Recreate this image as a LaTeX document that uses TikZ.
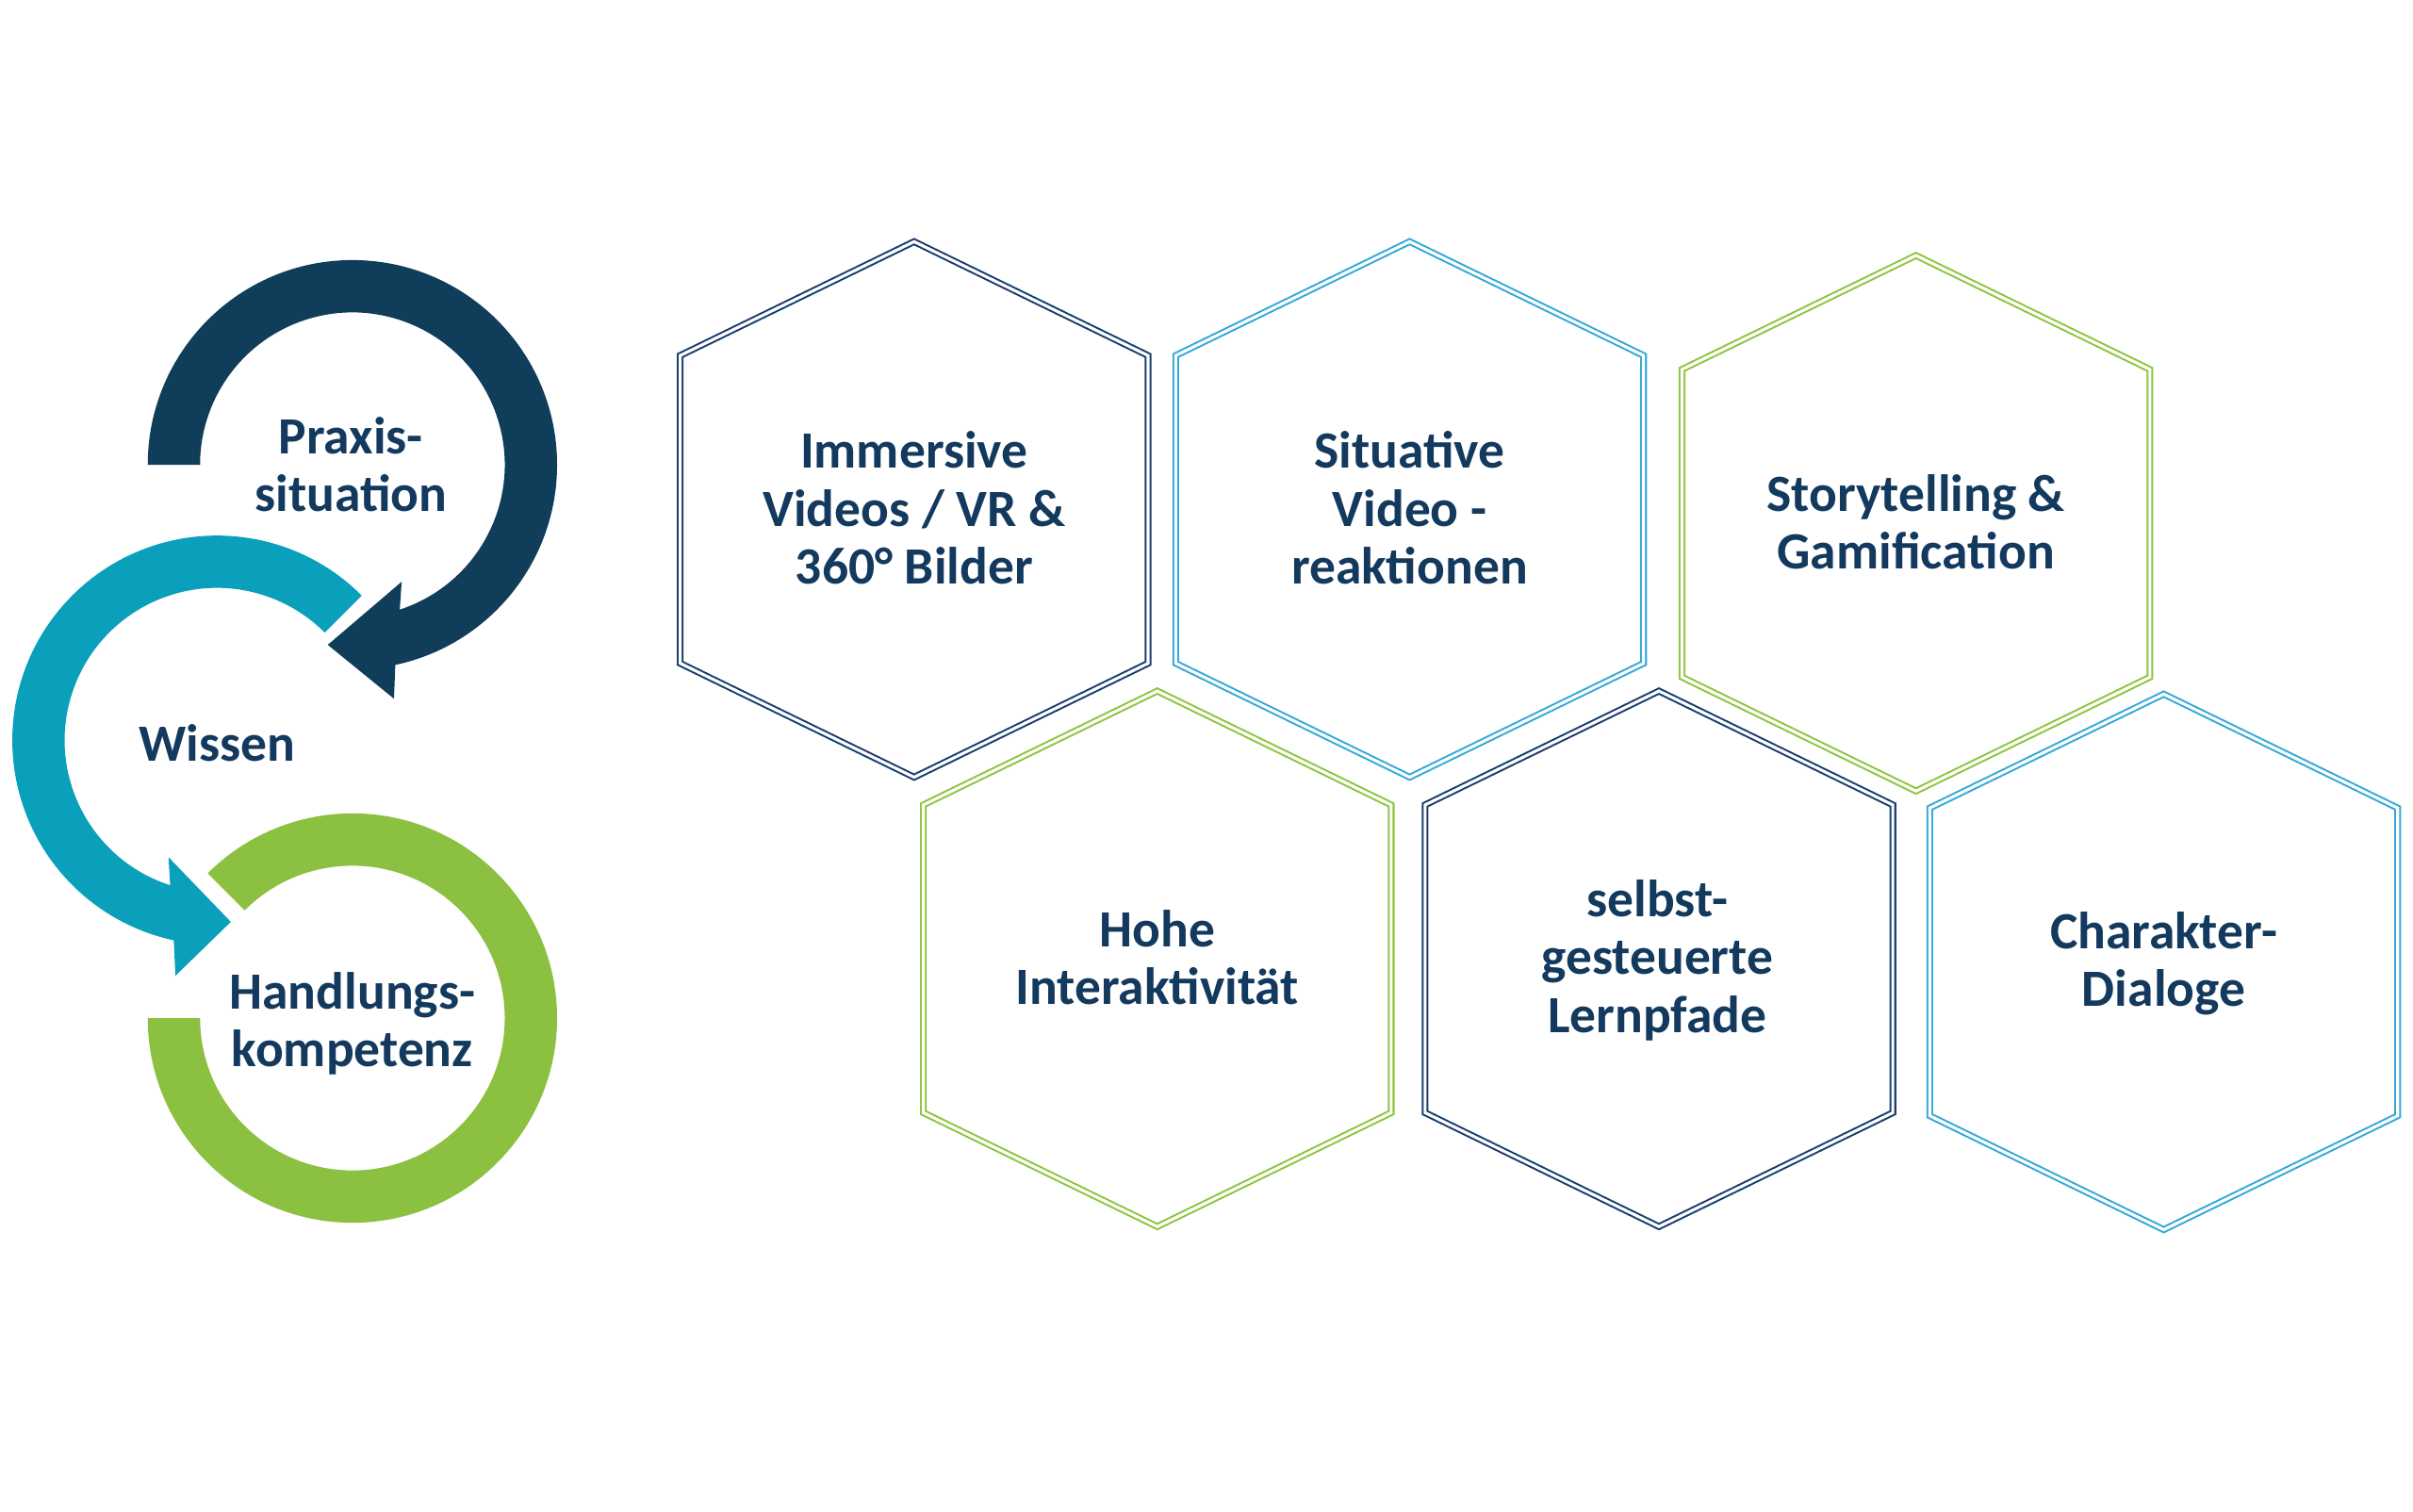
\documentclass[tikz,border=0pt]{standalone}
\usepackage{fontspec}
\usetikzlibrary{calc}
\setmainfont{Carlito}
\definecolor{navy}{HTML}{0F3D5A}
\definecolor{teal}{HTML}{0AA0BC}
\definecolor{lgreen}{HTML}{8CC040}
\definecolor{hnavy}{HTML}{1A3F6E}
\definecolor{hblue}{HTML}{36A9D8}
\definecolor{hgreen}{HTML}{8DC63F}
\definecolor{txt}{HTML}{133A5E}
\newcommand{\hexat}[3]{%
  \draw[hexline,draw=#3] ({#1},{#2-174}) -- ({#1+152},{#2-100}) -- ({#1+152},{#2+100}) --
  ({#1},{#2+174}) -- ({#1-152},{#2+100}) -- ({#1-152},{#2-100}) -- cycle;}
\begin{document}
\begin{tikzpicture}[x=1pt,y=-1pt,
  hexline/.style={line width=1.25pt,double=white,double distance=1.9pt,line join=miter},
  lab/.style={text=txt,font=\bfseries\fontsize{34}{37.5}\selectfont,align=center,inner sep=0pt}]
\useasboundingbox[fill=white] (0,0) rectangle (1568,982);
% --- cycle arrows ---
\coordinate (D) at (229,302);
\coordinate (T) at (141,481);
\coordinate (G) at (229,661.5);
\fill[navy] ($(D)+(-180:133)$) arc[start angle=-180,end angle=77.9,radius=133]
  -- (256,454) -- (213,419) -- (261,378) -- ($(D)+(71.9:99)$)
  arc[start angle=71.9,end angle=-180,radius=99] -- cycle;
\fill[teal] ($(T)+(-45:133)$) arc[start angle=-45,end angle=-257.8,radius=133]
  -- (114,634) -- (150,599) -- (109.5,557) -- ($(T)+(-252.1:99)$)
  arc[start angle=-252.1,end angle=-45,radius=99] -- cycle;
\fill[lgreen] ($(G)+(180:133)$) arc[start angle=180,end angle=-135,radius=133]
  -- ($(G)+(-135:99)$) arc[start angle=-135,end angle=180,radius=99] -- cycle;
\node[lab] (praxis) at (228,302) {Praxis-\\situation};
\node[lab] (wissen) at (141,483) {Wissen};
\node[lab] (hand) at (229,665) {Handlungs-\\kompetenz};
% --- hexagons ---
\hexat{594}{331}{hnavy}
\hexat{916}{331}{hblue}
\hexat{1245}{340}{hgreen}
\hexat{752}{623}{hgreen}
\hexat{1078}{623}{hnavy}
\hexat{1406}{625}{hblue}
\node[lab] (h1) at (594,330) {Immersive\\Videos / VR \&\\360° Bilder};
\node[lab] (h2) at (916,330) {Situative\\Video -\\reaktionen};
\node[lab] (h3) at (1245,339) {Storytelling \&\\Gamification};
\node[lab] (h4) at (752,622) {Hohe\\Interaktivität};
\node[lab] (h5) at (1077,624) {selbst-\\gesteuerte\\Lernpfade};
\node[lab] (h6) at (1406,626) {Charakter-\\Dialoge};
\end{tikzpicture}
\end{document}
